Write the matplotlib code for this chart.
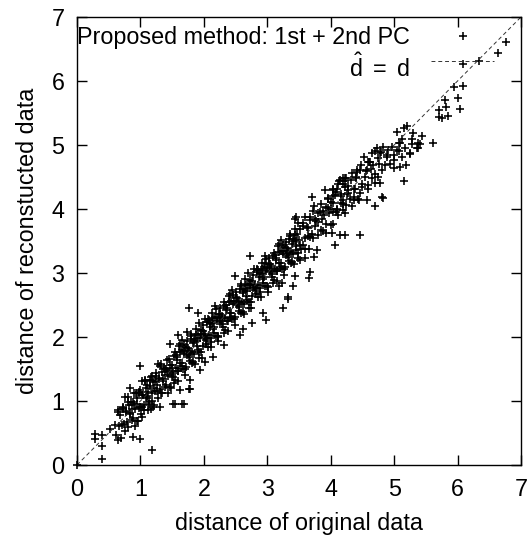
import matplotlib
matplotlib.use("Agg")
import matplotlib.pyplot as plt
from matplotlib.lines import Line2D

plt.rcParams['font.family'] = ['Liberation Sans', 'DejaVu Sans']
plt.rcParams['mathtext.fontset'] = 'custom'
plt.rcParams['mathtext.rm'] = 'Liberation Sans'
plt.rcParams['mathtext.it'] = 'Liberation Sans'

# ---- data: distance of original data (x) vs reconstructed data (y) ----
orig_low = [0.60, 0.62, 0.64, 0.66, 0.68, 0.70, 0.72, 0.74, 0.76, 0.78, 0.80, 0.82, 0.84, 0.86, 0.88,
            0.90, 0.92, 0.94, 0.96, 0.98, 1.00, 1.02, 1.04, 1.06, 1.08, 1.10, 1.12, 1.14, 1.16, 1.18,
            1.20, 1.22, 1.24, 1.26, 1.28, 1.30, 1.32, 1.34, 1.36, 1.38, 1.40, 1.42, 1.44, 1.46, 1.48,
            0.71, 0.73, 0.75, 0.77, 0.79, 0.81, 0.83, 0.85, 0.87, 0.89, 0.91, 0.93, 0.95, 0.97, 0.99,
            1.01, 1.03, 1.05, 1.07, 1.09, 1.11, 1.13, 1.15, 1.17, 1.19, 1.21, 1.23, 1.25, 1.27, 1.29,
            1.31, 1.33, 1.35, 1.37, 1.39, 1.41, 1.43, 1.45, 1.47, 1.49]
recon_low = [0.62, 0.47, 0.86, 0.61, 0.78, 0.42, 0.87, 0.64, 1.06, 0.83, 0.60, 0.94, 0.82, 0.88, 0.73,
             1.12, 0.87, 1.04, 0.68, 1.13, 0.90, 1.32, 1.09, 0.86, 1.20, 1.08, 1.14, 0.99, 1.38, 1.13,
             1.30, 0.94, 1.39, 1.16, 1.58, 1.35, 1.12, 1.46, 1.34, 1.40, 1.25, 1.64, 1.39, 1.56, 1.20,
             0.63, 0.91, 0.53, 0.84, 0.67, 1.06, 0.80, 0.99, 0.70, 0.98, 0.61, 1.13, 0.95, 0.89, 1.17,
             0.79, 1.10, 0.93, 1.32, 1.06, 1.25, 0.96, 1.24, 0.87, 1.39, 1.21, 1.15, 1.43, 1.05, 1.36,
             1.19, 1.58, 1.32, 1.51, 1.22, 1.50, 1.13, 1.65, 1.47, 1.41]

orig_mid = [1.50, 1.52, 1.54, 1.56, 1.58, 1.60, 1.62, 1.64, 1.66, 1.68, 1.70, 1.72, 1.74, 1.76, 1.78,
            1.80, 1.82, 1.84, 1.86, 1.88, 1.90, 1.92, 1.94, 1.96, 1.98, 2.00, 2.02, 2.04, 2.06, 2.08,
            2.10, 2.12, 2.14, 2.16, 2.18, 2.20, 2.22, 2.24, 2.26, 2.28, 2.30, 2.32, 2.34, 2.36, 2.38,
            2.40, 2.42, 2.44, 2.46, 2.48, 2.50, 2.52, 2.54, 2.56, 2.58, 2.60, 2.62, 2.64, 2.66, 2.68,
            2.70, 2.72, 2.74, 2.76, 2.78, 2.80, 2.82, 2.84, 2.86, 2.88, 2.90, 2.92, 2.94, 2.96, 2.98,
            3.00, 3.02, 3.04, 3.06, 3.08, 3.10, 3.12, 3.14, 3.16, 3.18, 3.20, 3.22, 3.24, 3.26, 3.28,
            3.30, 3.32, 3.34, 3.36, 3.38, 3.40, 3.42, 3.44, 3.46, 3.48,
            1.51, 1.53, 1.55, 1.57, 1.59, 1.61, 1.63, 1.65, 1.67, 1.69, 1.71, 1.73, 1.75, 1.77, 1.79,
            1.81, 1.83, 1.85, 1.87, 1.89, 1.91, 1.93, 1.95, 1.97, 1.99, 2.01, 2.03, 2.05, 2.07, 2.09,
            2.11, 2.13, 2.15, 2.17, 2.19, 2.21, 2.23, 2.25, 2.27, 2.29, 2.31, 2.33, 2.35, 2.37, 2.39,
            2.41, 2.43, 2.45, 2.47, 2.49, 2.51, 2.53, 2.55, 2.57, 2.59, 2.61, 2.63, 2.65, 2.67, 2.69,
            2.71, 2.73, 2.75, 2.77, 2.79, 2.81, 2.83, 2.85, 2.87, 2.89, 2.91, 2.93, 2.95, 2.97, 2.99,
            3.01, 3.03, 3.05, 3.07, 3.09, 3.11, 3.13, 3.15, 3.17, 3.19, 3.21, 3.23, 3.25, 3.27, 3.29,
            3.31, 3.33, 3.35, 3.37, 3.39, 3.41, 3.43, 3.45, 3.47, 3.49]
recon_mid = [1.52, 1.37, 1.76, 1.51, 1.68, 1.32, 1.77, 1.54, 1.96, 1.73, 1.50, 1.84, 1.72, 1.78, 1.63,
             2.02, 1.77, 1.94, 1.58, 2.03, 1.80, 2.22, 1.99, 1.76, 2.10, 1.98, 2.04, 1.89, 2.28, 2.03,
             2.20, 1.84, 2.29, 2.06, 2.48, 2.25, 2.02, 2.36, 2.24, 2.30, 2.15, 2.54, 2.29, 2.46, 2.10,
             2.55, 2.32, 2.74, 2.51, 2.28, 2.62, 2.50, 2.56, 2.41, 2.80, 2.55, 2.72, 2.36, 2.81, 2.58,
             3.00, 2.77, 2.54, 2.88, 2.76, 2.82, 2.67, 3.06, 2.81, 2.98, 2.62, 3.07, 2.84, 3.26, 3.03,
             2.80, 3.14, 3.02, 3.08, 2.93, 3.32, 3.07, 3.24, 2.88, 3.33, 3.10, 3.52, 3.29, 3.06, 3.40,
             3.28, 3.34, 3.19, 3.58, 3.33, 3.50, 3.14, 3.59, 3.36, 3.78,
             1.43, 1.71, 1.33, 1.64, 1.47, 1.86, 1.60, 1.79, 1.50, 1.78, 1.41, 1.93, 1.75, 1.69, 1.97,
             1.59, 1.90, 1.73, 2.12, 1.86, 2.05, 1.76, 2.04, 1.67, 2.19, 2.01, 1.95, 2.23, 1.85, 2.16,
             1.99, 2.38, 2.12, 2.31, 2.02, 2.30, 1.93, 2.45, 2.27, 2.21, 2.49, 2.11, 2.42, 2.25, 2.64,
             2.38, 2.57, 2.28, 2.56, 2.19, 2.71, 2.53, 2.47, 2.75, 2.37, 2.68, 2.51, 2.90, 2.64, 2.83,
             2.54, 2.82, 2.45, 2.97, 2.79, 2.73, 3.01, 2.63, 2.94, 2.77, 3.16, 2.90, 3.09, 2.80, 3.08,
             2.71, 3.23, 3.05, 2.99, 3.27, 2.89, 3.20, 3.03, 3.42, 3.16, 3.35, 3.06, 3.34, 2.97, 3.49,
             3.31, 3.25, 3.53, 3.15, 3.46, 3.29, 3.68, 3.42, 3.61, 3.32]

orig_fill = [0.905, 0.945, 0.985, 1.025, 1.065, 1.105, 1.145, 1.185, 1.225, 1.265, 1.305, 1.345, 1.385,
             1.425, 1.465,
             1.505, 1.535, 1.565, 1.595, 1.625, 1.655, 1.685, 1.715, 1.745, 1.775, 1.805, 1.835, 1.865,
             1.895, 1.925, 1.955, 1.985, 2.015, 2.045, 2.075, 2.105, 2.135, 2.165, 2.195, 2.225, 2.255,
             2.285, 2.315, 2.345, 2.375, 2.405, 2.435, 2.465, 2.495, 2.525, 2.555, 2.585, 2.615, 2.645,
             2.675, 2.705, 2.735, 2.765, 2.795, 2.825, 2.855, 2.885, 2.915, 2.945, 2.975, 3.005, 3.035,
             3.065, 3.095, 3.125, 3.155, 3.185, 3.215, 3.245, 3.275, 3.305, 3.335, 3.365, 3.395, 3.425,
             3.455, 3.485,
             3.52, 3.56, 3.60, 3.64, 3.68, 3.72, 3.76, 3.80, 3.84, 3.88, 3.92, 3.96, 4.00, 4.04, 4.08,
             4.12, 4.16, 4.20, 4.24, 4.28]
recon_fill = [0.955, 0.695, 1.145, 0.905, 1.335, 1.045, 1.335, 1.005, 1.305, 1.255, 1.545, 1.125, 1.495,
              1.475, 1.215,
              1.555, 1.285, 1.725, 1.475, 1.895, 1.595, 1.875, 1.535, 1.825, 1.765, 2.045, 1.615, 1.975,
              1.945, 1.675, 2.115, 1.865, 2.285, 1.985, 2.265, 1.925, 2.215, 2.155, 2.435, 2.005, 2.365,
              2.335, 2.065, 2.505, 2.255, 2.675, 2.375, 2.655, 2.315, 2.605, 2.545, 2.825, 2.395, 2.755,
              2.725, 2.455, 2.895, 2.645, 3.065, 2.765, 3.045, 2.705, 2.995, 2.935, 3.215, 2.785, 3.145,
              3.115, 2.845, 3.285, 3.035, 3.455, 3.155, 3.435, 3.095, 3.385, 3.325, 3.605, 3.175, 3.535,
              3.505, 3.235,
              3.68, 3.44, 3.87, 3.58, 3.87, 3.54, 3.84, 3.79, 4.08, 3.66, 4.03, 4.01, 3.75, 4.20, 3.96,
              4.39, 4.10, 4.39, 4.06, 4.36]

orig_high = [3.50, 3.53, 3.56, 3.59, 3.62, 3.65, 3.68, 3.71, 3.74, 3.77, 3.80, 3.83, 3.86, 3.89, 3.92,
             3.95, 3.98, 4.01, 4.04, 4.07, 4.10, 4.13, 4.16, 4.19, 4.22, 4.25, 4.28, 4.31, 4.34, 4.37,
             4.40, 4.43, 4.46, 4.49, 4.52, 4.55, 4.58, 4.61, 4.64, 4.67, 4.70, 4.73, 4.76, 4.79,
             3.52, 3.56, 3.60, 3.64, 3.68, 3.72, 3.76, 3.80, 3.84, 3.88, 3.92, 3.96, 4.00, 4.04, 4.08,
             4.12, 4.16, 4.20, 4.24, 4.28, 4.32, 4.36, 4.40, 4.44, 4.48]
recon_high = [3.52, 3.38, 3.78, 3.54, 3.72, 3.37, 3.83, 3.61, 4.04, 3.82, 3.60, 3.95, 3.84, 3.91, 3.77,
              4.17, 3.93, 4.11, 3.76, 4.22, 4.00, 4.43, 4.21, 3.99, 4.34, 4.23, 4.30, 4.16, 4.56, 4.32,
              4.50, 4.15, 4.61, 4.39, 4.82, 4.60, 4.38, 4.73, 4.62, 4.69, 4.55, 4.95, 4.71, 4.89,
              3.44, 3.74, 3.38, 3.71, 3.56, 3.97, 3.73, 3.94, 3.67, 3.97, 3.62, 4.16, 4.00, 3.96, 4.26,
              3.90, 4.23, 4.08, 4.49, 4.25, 4.46, 4.19, 4.49, 4.14, 4.68]

orig_sparse = [0.00, 0.28, 0.28, 0.40, 0.40, 0.39, 1.18, 0.99, 0.88, 0.65, 0.52, 0.65, 0.84, 1.55, 1.68,
               1.77, 0.99, 1.76, 1.91, 1.78,
               6.77, 6.63, 6.33, 6.08, 5.95, 6.08, 5.80, 6.00, 5.82, 6.04, 5.70, 5.71, 5.85, 5.76, 5.61,
               5.04, 5.15, 5.20, 5.30, 5.44, 5.28, 5.41, 5.36, 5.25, 5.12, 4.83, 4.96, 5.07, 4.88, 4.99,
               5.07, 5.28, 5.38, 5.09, 5.04, 5.17, 5.12, 5.25, 5.38, 4.70, 4.78, 4.91, 4.75, 4.88, 4.94,
               4.99, 4.86, 4.81, 4.99, 5.09, 5.19, 4.62, 4.57, 4.41, 4.54, 4.65, 4.75, 4.70, 4.78, 4.49,
               4.59, 4.20, 4.23, 4.10, 4.04, 4.38, 5.15, 4.81, 4.70, 4.57, 4.46, 4.36, 4.20, 4.33, 4.23,
               4.10, 4.04, 4.82, 4.46, 4.23, 4.14, 3.70, 3.91, 4.03, 3.46, 3.44, 4.15, 4.23, 4.41, 4.59,
               4.65, 3.68, 4.02, 4.07, 3.78, 3.73, 3.41, 3.33, 3.52, 3.60, 3.23, 3.19, 3.65, 2.97, 2.83,
               3.25, 3.32, 3.44, 2.49, 2.72, 2.98, 2.94, 2.76, 2.57, 2.62, 2.31, 2.15, 2.02, 1.52, 1.65,
               1.47, 1.60, 1.73, 1.94, 1.62, 1.78, 1.31, 1.20, 1.12, 0.81, 0.73, 1.02]
recon_sparse = [0.00, 0.49, 0.40, 0.47, 0.30, 0.10, 0.23, 0.40, 0.44, 0.39, 0.56, 0.83, 1.20, 0.96, 0.95,
                1.19, 1.55, 2.45, 2.37, 1.18,
                6.61, 6.44, 6.32, 6.27, 5.90, 5.92, 5.71, 5.73, 5.60, 5.57, 5.55, 5.43, 5.45, 5.42, 5.03,
                5.21, 5.27, 5.30, 5.19, 5.14, 5.02, 5.02, 4.95, 4.86, 4.82, 4.97, 4.97, 5.03, 4.84, 4.84,
                4.90, 5.10, 5.03, 5.03, 4.92, 4.95, 5.10, 4.88, 4.95, 4.90, 4.87, 4.92, 4.79, 4.82, 4.71,
                4.77, 4.69, 4.61, 4.64, 4.66, 4.69, 4.74, 4.61, 4.61, 4.50, 4.48, 4.50, 4.40, 4.40, 4.35,
                4.32, 4.48, 4.43, 4.32, 4.30, 4.32, 4.43, 4.18, 4.05, 4.14, 4.25, 4.14, 4.14, 4.04, 3.93,
                3.98, 4.09, 4.17, 3.60, 3.59, 3.59, 4.18, 4.30, 4.31, 3.88, 3.84, 4.45, 4.48, 4.58, 4.74,
                4.87, 3.02, 3.62, 3.43, 3.36, 3.25, 2.80, 2.62, 3.20, 3.23, 2.84, 2.80, 2.92, 3.15, 3.05,
                2.46, 2.60, 2.95, 2.95, 3.27, 2.27, 2.37, 2.22, 2.03, 2.12, 1.88, 1.69, 1.61, 0.96, 0.96,
                1.89, 2.03, 2.08, 1.48, 1.17, 1.33, 0.91, 0.91, 0.86, 0.99, 0.89, 0.75]

axis_ticks = [0, 1, 2, 3, 4, 5, 6, 7]
ref_line = [0, 7]
series_label = "Proposed method: 1st + 2nd PC"
line_label = r"$\hat{\mathrm{d}}\ \mathrm{=\ d}$"

FS = 16.8
fig = plt.figure(figsize=(5.28, 5.40), dpi=100)
ax = fig.add_axes([77/528, 1 - 465/540, 444/528, 448/540])

mk = dict(marker='+', linestyle='none', color='black', markersize=6.2, markeredgewidth=1.15)
for xs, ys in [(orig_low, recon_low), (orig_mid, recon_mid), (orig_fill, recon_fill),
               (orig_high, recon_high), (orig_sparse, recon_sparse)]:
    ax.plot(xs, ys, clip_on=False, **mk)

ax.plot(ref_line, ref_line, color='#333333', linewidth=0.7, linestyle=(0, (4, 3)))

ax.set_xlim(0, 7)
ax.set_ylim(0, 7)
ax.set_xticks(axis_ticks)
ax.set_yticks(axis_ticks)
ax.tick_params(direction='in', length=7, width=1, top=True, right=True,
               labelsize=FS, pad=9, colors='black')
for s in ax.spines.values():
    s.set_linewidth(1.0)
ax.set_xlabel("distance of original data", fontsize=FS, labelpad=8)
ax.set_ylabel("distance of reconstucted data", fontsize=FS, labelpad=9)

# key (gnuplot style, top right)
ax.text(0.750, 0.955, series_label, transform=ax.transAxes, ha='right', va='center', fontsize=FS)
ax.add_line(Line2D([0.869], [0.957], transform=ax.transAxes, **mk))
ax.text(0.750, 0.886, line_label, transform=ax.transAxes, ha='right', va='center', fontsize=FS)
ax.add_line(Line2D([0.797, 0.940], [0.902, 0.902], transform=ax.transAxes,
                   color='#333333', linewidth=0.7, linestyle=(0, (4, 3))))

fig.savefig("out.png", dpi=100)
